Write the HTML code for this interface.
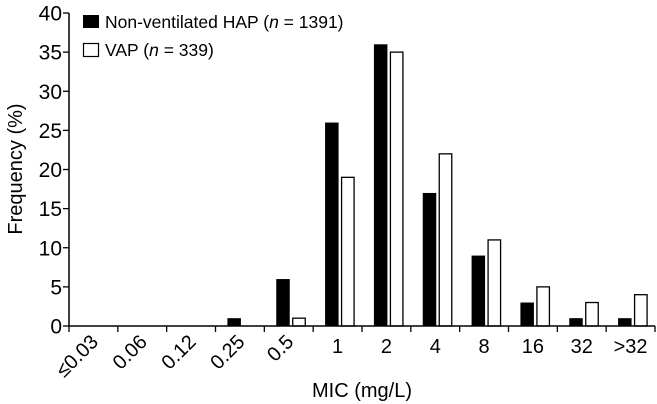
<!DOCTYPE html>
<html><head><meta charset="utf-8"><style>
html,body{margin:0;padding:0;background:#fff;}
svg{display:block;font-family:"Liberation Sans",Arial,sans-serif;}
</style></head><body>
<svg id="chart" width="657" height="404" style="position:absolute;left:0;top:0;"></svg>
<script>
const categories = ["≤0.03","0.06","0.12","0.25","0.5","1","2","4","8","16","32",">32"];
const hapValues = [0,0,0,1,6,26,36,17,9,3,1,1];
const vapValues = [0,0,0,0,1,19,35,22,11,5,3,4];
const yTicks = [0,5,10,15,20,25,30,35,40];

const NS = "http://www.w3.org/2000/svg";
const svg = document.getElementById("chart");
const X0 = 69, X1 = 655, Y0 = 326, YTOP = 13;
const step = (X1 - X0) / categories.length;
function yScale(v){ return Y0 - (v/40)*(Y0-YTOP); }
function xCenter(i){ return X0 + step*(i+0.5); }
function mk(tag, attrs){ const e=document.createElementNS(NS,tag); for(const k in attrs) e.setAttribute(k,attrs[k]); svg.appendChild(e); return e; }

categories.forEach((c,i)=>{
  const cx = xCenter(i);
  if(hapValues[i]>0){
    const b = mk("rect",{x:cx-12.5,y:yScale(hapValues[i]),width:13.5,height:Y0-yScale(hapValues[i]),fill:"#000"});
    
    
  }
  if(vapValues[i]>0){
    const b = mk("rect",{x:cx+4,y:yScale(vapValues[i]),width:12.5,height:Y0-yScale(vapValues[i]),fill:"#fff",stroke:"#000","stroke-width":1.3});
    
    
  }
});

const ya = mk("line",{x1:X0,y1:YTOP,x2:X0,y2:Y0,stroke:"#000","stroke-width":1.5});


const xa = mk("line",{x1:X0,y1:Y0,x2:X1,y2:Y0,stroke:"#000","stroke-width":1.5});



yTicks.forEach(t=>{
  const y=yScale(t);
  mk("line",{x1:X0-6,y1:y,x2:X0,y2:y,stroke:"#000","stroke-width":1.3});
  const tx = mk("text",{x:X0-7,y:y+7.5,"text-anchor":"end","font-size":21,fill:"#000"});
  tx.textContent=t;
  
  
});
for(let i=0;i<=categories.length;i++){
  const x=X0+step*i;
  mk("line",{x1:x,y1:Y0,x2:x,y2:Y0+6,stroke:"#000","stroke-width":1.3});
}
categories.forEach((c,i)=>{
  let tx;
  if(i<5){
    const cx=xCenter(i)+6;
    const ty=Y0+17;
    tx=mk("text",{x:cx,y:ty,"text-anchor":"end","font-size":20,fill:"#000",transform:`rotate(-45 ${cx} ${ty})`});
  } else {
    tx=mk("text",{x:xCenter(i),y:Y0+27,"text-anchor":"middle","font-size":20,fill:"#000"});
  }
  tx.textContent=c;
  
  
});
</script>
<svg width="657" height="404" style="position:absolute;left:0;top:0;pointer-events:none;font-family:'Liberation Sans',Arial,sans-serif;">
  <text x="362" y="397" text-anchor="middle" font-size="20">MIC (mg/L)</text>
  <text x="0" y="0" transform="translate(22 169) rotate(-90)" text-anchor="middle" font-size="20">Frequency (%)</text>
  <g>
    <rect x="83" y="15" width="16" height="13" fill="#000"/>
    <text x="105" y="28" font-size="17.5">Non-ventilated HAP (<tspan font-style="italic">n</tspan> = 1391)</text>
  </g>
  <g>
    <rect x="83.5" y="43.5" width="15" height="13" fill="#fff" stroke="#000" stroke-width="1.2"/>
    <text x="105" y="56" font-size="17.5">VAP (<tspan font-style="italic">n</tspan> = 339)</text>
  </g>
</svg>
</body></html>
